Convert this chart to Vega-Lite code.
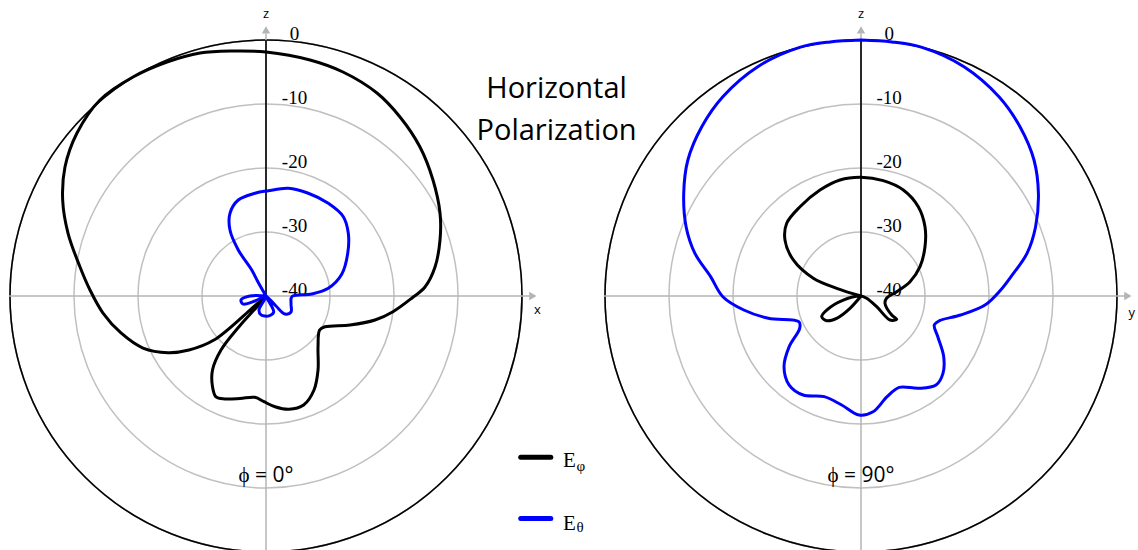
{
  "$schema": "https://vega.github.io/schema/vega-lite/v6.json",
  "padding": 0,
  "spacing": 0,
  "bounds": "flush",
  "config": {"view": {"stroke": null}, "axis": {"disable": true}},
  "datasets": {
    "rings": [{"level": -30}, {"level": -20}, {"level": -10}],
    "outer": [{"level": 0}],
    "ringLabels": [
      {"level": 0, "label": "0"}, {"level": -10, "label": "-10"}, {"level": -20, "label": "-20"},
      {"level": -30, "label": "-30"}, {"level": -40, "label": "-40"}
    ],
    "patterns": [
      {"plot": "ϕ = 0°", "series": "Eφ", "i": 0, "h": 0, "v": 0},
      {"plot": "ϕ = 0°", "series": "Eφ", "i": 1, "h": -2.5, "v": -2.19},
      {"plot": "ϕ = 0°", "series": "Eφ", "i": 2, "h": -8.13, "v": -6.88},
      {"plot": "ϕ = 0°", "series": "Eφ", "i": 3, "h": -12.03, "v": -8.44},
      {"plot": "ϕ = 0°", "series": "Eφ", "i": 4, "h": -15.31, "v": -8.86},
      {"plot": "ϕ = 0°", "series": "Eφ", "i": 5, "h": -19.22, "v": -8.13},
      {"plot": "ϕ = 0°", "series": "Eφ", "i": 6, "h": -22.66, "v": -5.78},
      {"plot": "ϕ = 0°", "series": "Eφ", "i": 7, "h": -25.47, "v": -2.66},
      {"plot": "ϕ = 0°", "series": "Eφ", "i": 8, "h": -27.5, "v": 0.94},
      {"plot": "ϕ = 0°", "series": "Eφ", "i": 9, "h": -29.06, "v": 4.53},
      {"plot": "ϕ = 0°", "series": "Eφ", "i": 10, "h": -30.94, "v": 9.84},
      {"plot": "ϕ = 0°", "series": "Eφ", "i": 11, "h": -31.77, "v": 15.0},
      {"plot": "ϕ = 0°", "series": "Eφ", "i": 12, "h": -31.41, "v": 20.16},
      {"plot": "ϕ = 0°", "series": "Eφ", "i": 13, "h": -29.53, "v": 25.47},
      {"plot": "ϕ = 0°", "series": "Eφ", "i": 14, "h": -25.94, "v": 30.63},
      {"plot": "ϕ = 0°", "series": "Eφ", "i": 15, "h": -20.78, "v": 34.22},
      {"plot": "ϕ = 0°", "series": "Eφ", "i": 16, "h": -15.47, "v": 36.56},
      {"plot": "ϕ = 0°", "series": "Eφ", "i": 17, "h": -10.31, "v": 37.97},
      {"plot": "ϕ = 0°", "series": "Eφ", "i": 18, "h": -5.16, "v": 38.28},
      {"plot": "ϕ = 0°", "series": "Eφ", "i": 19, "h": 0, "v": 38.13},
      {"plot": "ϕ = 0°", "series": "Eφ", "i": 20, "h": 6.88, "v": 36.88},
      {"plot": "ϕ = 0°", "series": "Eφ", "i": 21, "h": 12.03, "v": 35.0},
      {"plot": "ϕ = 0°", "series": "Eφ", "i": 22, "h": 17.34, "v": 31.72},
      {"plot": "ϕ = 0°", "series": "Eφ", "i": 23, "h": 20.94, "v": 27.97},
      {"plot": "ϕ = 0°", "series": "Eφ", "i": 24, "h": 24.06, "v": 23.28},
      {"plot": "ϕ = 0°", "series": "Eφ", "i": 25, "h": 26.09, "v": 18.13},
      {"plot": "ϕ = 0°", "series": "Eφ", "i": 26, "h": 27.19, "v": 12.97},
      {"plot": "ϕ = 0°", "series": "Eφ", "i": 27, "h": 27.19, "v": 8.75},
      {"plot": "ϕ = 0°", "series": "Eφ", "i": 28, "h": 26.41, "v": 4.53},
      {"plot": "ϕ = 0°", "series": "Eφ", "i": 29, "h": 24.84, "v": 1.41},
      {"plot": "ϕ = 0°", "series": "Eφ", "i": 30, "h": 22.81, "v": -0.31},
      {"plot": "ϕ = 0°", "series": "Eφ", "i": 31, "h": 19.84, "v": -2.45},
      {"plot": "ϕ = 0°", "series": "Eφ", "i": 32, "h": 17.03, "v": -3.75},
      {"plot": "ϕ = 0°", "series": "Eφ", "i": 33, "h": 13.13, "v": -4.53},
      {"plot": "ϕ = 0°", "series": "Eφ", "i": 34, "h": 9.22, "v": -4.8},
      {"plot": "ϕ = 0°", "series": "Eφ", "i": 35, "h": 8.38, "v": -5.31},
      {"plot": "ϕ = 0°", "series": "Eφ", "i": 36, "h": 8.13, "v": -7.92},
      {"plot": "ϕ = 0°", "series": "Eφ", "i": 37, "h": 8.13, "v": -11.56},
      {"plot": "ϕ = 0°", "series": "Eφ", "i": 38, "h": 7.5, "v": -14.69},
      {"plot": "ϕ = 0°", "series": "Eφ", "i": 39, "h": 5.88, "v": -17.03},
      {"plot": "ϕ = 0°", "series": "Eφ", "i": 40, "h": 3.59, "v": -17.7},
      {"plot": "ϕ = 0°", "series": "Eφ", "i": 41, "h": 1.41, "v": -17.3},
      {"plot": "ϕ = 0°", "series": "Eφ", "i": 42, "h": -0.31, "v": -16.52},
      {"plot": "ϕ = 0°", "series": "Eφ", "i": 43, "h": -1.72, "v": -15.83},
      {"plot": "ϕ = 0°", "series": "Eφ", "i": 44, "h": -4.06, "v": -16.02},
      {"plot": "ϕ = 0°", "series": "Eφ", "i": 45, "h": -6.41, "v": -16.09},
      {"plot": "ϕ = 0°", "series": "Eφ", "i": 46, "h": -7.81, "v": -15.78},
      {"plot": "ϕ = 0°", "series": "Eφ", "i": 47, "h": -8.36, "v": -14.17},
      {"plot": "ϕ = 0°", "series": "Eφ", "i": 48, "h": -8.36, "v": -11.56},
      {"plot": "ϕ = 0°", "series": "Eφ", "i": 49, "h": -7.03, "v": -8.44},
      {"plot": "ϕ = 0°", "series": "Eφ", "i": 50, "h": -4.22, "v": -4.8},
      {"plot": "ϕ = 0°", "series": "Eφ", "i": 51, "h": -1.41, "v": -1.67},
      {"plot": "ϕ = 0°", "series": "Eφ", "i": 52, "h": 0, "v": 0},

      {"plot": "ϕ = 0°", "series": "Eθ", "i": 0, "h": 0, "v": 0},
      {"plot": "ϕ = 0°", "series": "Eθ", "i": 1, "h": -1.25, "v": 2.19},
      {"plot": "ϕ = 0°", "series": "Eθ", "i": 2, "h": -2.23, "v": 4.06},
      {"plot": "ϕ = 0°", "series": "Eθ", "i": 3, "h": -4.33, "v": 7.19},
      {"plot": "ϕ = 0°", "series": "Eθ", "i": 4, "h": -5.63, "v": 10.31},
      {"plot": "ϕ = 0°", "series": "Eθ", "i": 5, "h": -5.63, "v": 12.92},
      {"plot": "ϕ = 0°", "series": "Eθ", "i": 6, "h": -4.33, "v": 15.0},
      {"plot": "ϕ = 0°", "series": "Eθ", "i": 7, "h": -1.72, "v": 16.05},
      {"plot": "ϕ = 0°", "series": "Eθ", "i": 8, "h": 0.36, "v": 16.45},
      {"plot": "ϕ = 0°", "series": "Eθ", "i": 9, "h": 3.48, "v": 16.83},
      {"plot": "ϕ = 0°", "series": "Eθ", "i": 10, "h": 6.61, "v": 16.05},
      {"plot": "ϕ = 0°", "series": "Eθ", "i": 11, "h": 9.73, "v": 14.48},
      {"plot": "ϕ = 0°", "series": "Eθ", "i": 12, "h": 12.08, "v": 12.39},
      {"plot": "ϕ = 0°", "series": "Eθ", "i": 13, "h": 12.86, "v": 9.8},
      {"plot": "ϕ = 0°", "series": "Eθ", "i": 14, "h": 12.77, "v": 6.67},
      {"plot": "ϕ = 0°", "series": "Eθ", "i": 15, "h": 11.83, "v": 3.39},
      {"plot": "ϕ = 0°", "series": "Eθ", "i": 16, "h": 9.73, "v": 1.2},
      {"plot": "ϕ = 0°", "series": "Eθ", "i": 17, "h": 7.14, "v": 0.31},
      {"plot": "ϕ = 0°", "series": "Eθ", "i": 18, "h": 4.06, "v": -0.08},
      {"plot": "ϕ = 0°", "series": "Eθ", "i": 19, "h": 3.91, "v": -1.25},
      {"plot": "ϕ = 0°", "series": "Eθ", "i": 20, "h": 3.91, "v": -2.5},
      {"plot": "ϕ = 0°", "series": "Eθ", "i": 21, "h": 2.97, "v": -2.81},
      {"plot": "ϕ = 0°", "series": "Eθ", "i": 22, "h": 1.56, "v": -1.56},
      {"plot": "ϕ = 0°", "series": "Eθ", "i": 23, "h": 0, "v": 0},
      {"plot": "ϕ = 0°", "series": "Eθ", "i": 24, "h": 1.2, "v": -2.5},
      {"plot": "ϕ = 0°", "series": "Eθ", "i": 25, "h": 0.47, "v": -3.1},
      {"plot": "ϕ = 0°", "series": "Eθ", "i": 26, "h": -0.78, "v": -2.95},
      {"plot": "ϕ = 0°", "series": "Eθ", "i": 27, "h": -1.1, "v": -2.2},
      {"plot": "ϕ = 0°", "series": "Eθ", "i": 28, "h": 0, "v": 0},
      {"plot": "ϕ = 0°", "series": "Eθ", "i": 29, "h": -1.72, "v": -0.78},
      {"plot": "ϕ = 0°", "series": "Eθ", "i": 30, "h": -3.59, "v": -1.25},
      {"plot": "ϕ = 0°", "series": "Eθ", "i": 31, "h": -3.91, "v": -0.63},
      {"plot": "ϕ = 0°", "series": "Eθ", "i": 32, "h": -2.5, "v": 0},
      {"plot": "ϕ = 0°", "series": "Eθ", "i": 33, "h": 0, "v": 0},

      {"plot": "ϕ = 90°", "series": "Eθ", "i": 0, "h": 0, "v": 40},
      {"plot": "ϕ = 90°", "series": "Eθ", "i": 1, "h": 4.84, "v": 39.7},
      {"plot": "ϕ = 90°", "series": "Eθ", "i": 2, "h": 9.53, "v": 38.85},
      {"plot": "ϕ = 90°", "series": "Eθ", "i": 3, "h": 16.09, "v": 35.83},
      {"plot": "ϕ = 90°", "series": "Eθ", "i": 4, "h": 21.56, "v": 31.14},
      {"plot": "ϕ = 90°", "series": "Eθ", "i": 5, "h": 24.84, "v": 26.45},
      {"plot": "ϕ = 90°", "series": "Eθ", "i": 6, "h": 27.03, "v": 21.25},
      {"plot": "ϕ = 90°", "series": "Eθ", "i": 7, "h": 27.72, "v": 16.05},
      {"plot": "ϕ = 90°", "series": "Eθ", "i": 8, "h": 27.28, "v": 10.83},
      {"plot": "ϕ = 90°", "series": "Eθ", "i": 9, "h": 25.94, "v": 6.67},
      {"plot": "ϕ = 90°", "series": "Eθ", "i": 10, "h": 23.44, "v": 3.02},
      {"plot": "ϕ = 90°", "series": "Eθ", "i": 11, "h": 21.83, "v": 0.94},
      {"plot": "ϕ = 90°", "series": "Eθ", "i": 12, "h": 19.38, "v": -1.41},
      {"plot": "ϕ = 90°", "series": "Eθ", "i": 13, "h": 15.55, "v": -2.97},
      {"plot": "ϕ = 90°", "series": "Eθ", "i": 14, "h": 12.27, "v": -3.86},
      {"plot": "ϕ = 90°", "series": "Eθ", "i": 15, "h": 11.45, "v": -4.53},
      {"plot": "ϕ = 90°", "series": "Eθ", "i": 16, "h": 12.0, "v": -6.36},
      {"plot": "ϕ = 90°", "series": "Eθ", "i": 17, "h": 12.92, "v": -9.48},
      {"plot": "ϕ = 90°", "series": "Eθ", "i": 18, "h": 12.81, "v": -12.08},
      {"plot": "ϕ = 90°", "series": "Eθ", "i": 19, "h": 11.72, "v": -13.91},
      {"plot": "ϕ = 90°", "series": "Eθ", "i": 20, "h": 9.0, "v": -14.42},
      {"plot": "ϕ = 90°", "series": "Eθ", "i": 21, "h": 5.98, "v": -14.27},
      {"plot": "ϕ = 90°", "series": "Eθ", "i": 22, "h": 4.08, "v": -15.73},
      {"plot": "ϕ = 90°", "series": "Eθ", "i": 23, "h": 1.89, "v": -18.08},
      {"plot": "ϕ = 90°", "series": "Eθ", "i": 24, "h": -0.3, "v": -18.59},
      {"plot": "ϕ = 90°", "series": "Eθ", "i": 25, "h": -3.02, "v": -17.03},
      {"plot": "ϕ = 90°", "series": "Eθ", "i": 26, "h": -5.75, "v": -15.73},
      {"plot": "ϕ = 90°", "series": "Eθ", "i": 27, "h": -9.03, "v": -15.47},
      {"plot": "ϕ = 90°", "series": "Eθ", "i": 28, "h": -11.22, "v": -13.91},
      {"plot": "ϕ = 90°", "series": "Eθ", "i": 29, "h": -12.03, "v": -11.05},
      {"plot": "ϕ = 90°", "series": "Eθ", "i": 30, "h": -11.22, "v": -7.92},
      {"plot": "ϕ = 90°", "series": "Eθ", "i": 31, "h": -9.58, "v": -5.05},
      {"plot": "ϕ = 90°", "series": "Eθ", "i": 32, "h": -9.69, "v": -4.02},
      {"plot": "ϕ = 90°", "series": "Eθ", "i": 33, "h": -14.48, "v": -3.48},
      {"plot": "ϕ = 90°", "series": "Eθ", "i": 34, "h": -18.31, "v": -2.19},
      {"plot": "ϕ = 90°", "series": "Eθ", "i": 35, "h": -21.59, "v": -0.11},
      {"plot": "ϕ = 90°", "series": "Eθ", "i": 36, "h": -23.5, "v": 3.02},
      {"plot": "ϕ = 90°", "series": "Eθ", "i": 37, "h": -25.95, "v": 6.67},
      {"plot": "ϕ = 90°", "series": "Eθ", "i": 38, "h": -27.33, "v": 10.83},
      {"plot": "ϕ = 90°", "series": "Eθ", "i": 39, "h": -27.7, "v": 16.05},
      {"plot": "ϕ = 90°", "series": "Eθ", "i": 40, "h": -27.05, "v": 21.25},
      {"plot": "ϕ = 90°", "series": "Eθ", "i": 41, "h": -24.88, "v": 26.45},
      {"plot": "ϕ = 90°", "series": "Eθ", "i": 42, "h": -21.59, "v": 31.14},
      {"plot": "ϕ = 90°", "series": "Eθ", "i": 43, "h": -16.13, "v": 35.83},
      {"plot": "ϕ = 90°", "series": "Eθ", "i": 44, "h": -9.58, "v": 38.85},
      {"plot": "ϕ = 90°", "series": "Eθ", "i": 45, "h": -4.84, "v": 39.7},
      {"plot": "ϕ = 90°", "series": "Eθ", "i": 46, "h": 0, "v": 40},

      {"plot": "ϕ = 90°", "series": "Eφ", "i": 0, "h": 0, "v": 0},
      {"plot": "ϕ = 90°", "series": "Eφ", "i": 1, "h": -3.8, "v": 1.2},
      {"plot": "ϕ = 90°", "series": "Eφ", "i": 2, "h": -7.45, "v": 2.77},
      {"plot": "ϕ = 90°", "series": "Eφ", "i": 3, "h": -10.58, "v": 5.63},
      {"plot": "ϕ = 90°", "series": "Eφ", "i": 4, "h": -11.88, "v": 8.75},
      {"plot": "ϕ = 90°", "series": "Eφ", "i": 5, "h": -11.61, "v": 11.36},
      {"plot": "ϕ = 90°", "series": "Eφ", "i": 6, "h": -9.53, "v": 13.95},
      {"plot": "ϕ = 90°", "series": "Eφ", "i": 7, "h": -6.41, "v": 16.56},
      {"plot": "ϕ = 90°", "series": "Eφ", "i": 8, "h": -3.28, "v": 18.13},
      {"plot": "ϕ = 90°", "series": "Eφ", "i": 9, "h": 0, "v": 18.55},
      {"plot": "ϕ = 90°", "series": "Eφ", "i": 10, "h": 3.48, "v": 18.02},
      {"plot": "ϕ = 90°", "series": "Eφ", "i": 11, "h": 6.61, "v": 16.56},
      {"plot": "ϕ = 90°", "series": "Eφ", "i": 12, "h": 8.95, "v": 13.95},
      {"plot": "ϕ = 90°", "series": "Eφ", "i": 13, "h": 10.0, "v": 10.83},
      {"plot": "ϕ = 90°", "series": "Eφ", "i": 14, "h": 10.0, "v": 7.7},
      {"plot": "ϕ = 90°", "series": "Eφ", "i": 15, "h": 9.22, "v": 4.58},
      {"plot": "ϕ = 90°", "series": "Eφ", "i": 16, "h": 7.66, "v": 2.23},
      {"plot": "ϕ = 90°", "series": "Eφ", "i": 17, "h": 5.58, "v": 0.67},
      {"plot": "ϕ = 90°", "series": "Eφ", "i": 18, "h": 4.02, "v": -0.31},
      {"plot": "ϕ = 90°", "series": "Eφ", "i": 19, "h": 3.75, "v": -1.14},
      {"plot": "ϕ = 90°", "series": "Eφ", "i": 20, "h": 4.8, "v": -2.97},
      {"plot": "ϕ = 90°", "series": "Eφ", "i": 21, "h": 5.58, "v": -3.64},
      {"plot": "ϕ = 90°", "series": "Eφ", "i": 22, "h": 4.53, "v": -3.75},
      {"plot": "ϕ = 90°", "series": "Eφ", "i": 23, "h": 2.45, "v": -1.67},
      {"plot": "ϕ = 90°", "series": "Eφ", "i": 24, "h": 0.89, "v": -0.36},
      {"plot": "ϕ = 90°", "series": "Eφ", "i": 25, "h": 0, "v": 0},
      {"plot": "ϕ = 90°", "series": "Eφ", "i": 26, "h": -2.77, "v": -0.63},
      {"plot": "ϕ = 90°", "series": "Eφ", "i": 27, "h": -5.36, "v": -2.19},
      {"plot": "ϕ = 90°", "series": "Eφ", "i": 28, "h": -6.14, "v": -3.23},
      {"plot": "ϕ = 90°", "series": "Eφ", "i": 29, "h": -5.36, "v": -3.86},
      {"plot": "ϕ = 90°", "series": "Eφ", "i": 30, "h": -3.8, "v": -3.48},
      {"plot": "ϕ = 90°", "series": "Eφ", "i": 31, "h": -1.72, "v": -1.92},
      {"plot": "ϕ = 90°", "series": "Eφ", "i": 32, "h": 0, "v": 0}
    ]
  },
  "hconcat": [
    {
      "width": 563,
      "height": 550,
      "data": {"values": [{}]},
      "layer": [
        {
          "data": {"name": "rings"},
          "mark": {"type": "arc", "filled": false, "stroke": "#c0c0c0", "strokeWidth": 1.5, "theta": 0, "theta2": 6.2832},
          "encoding": {
            "x": {"datum": 0, "type": "quantitative"},
            "y": {"datum": 0, "type": "quantitative"},
            "radius": {"field": "level", "type": "quantitative", "stack": null, "scale": {"type": "linear", "domain": [-40, 0], "range": [0, 256], "zero": false}}
          }
        },
        {
          "data": {"name": "outer"},
          "mark": {"type": "arc", "filled": false, "stroke": "#000000", "strokeWidth": 1.6, "theta": 0, "theta2": 6.2832},
          "encoding": {
            "x": {"datum": 0, "type": "quantitative"},
            "y": {"datum": 0, "type": "quantitative"},
            "radius": {"field": "level", "type": "quantitative", "stack": null}
          }
        },
        {
          "mark": {"type": "rule", "stroke": "#b4b4b4", "strokeWidth": 1.5},
          "encoding": {"x": {"datum": -40.2}, "x2": {"datum": 41.3}, "y": {"datum": 0}}
        },
        {
          "mark": {"type": "rule", "stroke": "#b4b4b4", "strokeWidth": 1.5},
          "encoding": {"x": {"datum": 0}, "y": {"datum": -41}, "y2": {"datum": 41}}
        },
        {
          "mark": {"type": "point", "shape": "triangle-right", "filled": true, "color": "#b4b4b4", "opacity": 1, "size": 70},
          "encoding": {"x": {"datum": 41.7}, "y": {"datum": 0}}
        },
        {
          "mark": {"type": "point", "shape": "triangle-up", "filled": true, "color": "#b4b4b4", "opacity": 1, "size": 70},
          "encoding": {"x": {"datum": 0}, "y": {"datum": 41.6}}
        },
        {
          "mark": {"type": "rule", "stroke": "#000000", "strokeWidth": 1.6},
          "encoding": {"x": {"datum": 0}, "y": {"datum": 0}, "y2": {"datum": 40}}
        },
        {
          "data": {"name": "ringLabels"},
          "transform": [{"calculate": "datum.level + 40", "as": "r"}],
          "mark": {"type": "text", "font": "Liberation Serif", "fontSize": 19, "align": "center", "baseline": "alphabetic", "color": "#000000"},
          "encoding": {"x": {"datum": 4.45}, "y": {"field": "r", "type": "quantitative"}, "text": {"field": "label"}}
        },
        {
          "mark": {"type": "text", "text": "z", "font": "Open Sans", "fontSize": 13, "align": "center", "baseline": "middle"},
          "encoding": {"x": {"datum": 0}, "y": {"datum": 44.1}}
        },
        {
          "mark": {"type": "text", "text": "x", "font": "Open Sans", "fontSize": 13, "align": "center", "baseline": "middle"},
          "encoding": {"x": {"datum": 42.4}, "y": {"datum": -2.2}}
        },
        {
          "data": {"name": "patterns"},
          "transform": [{"filter": "datum.plot === 'ϕ = 0°'"}],
          "mark": {"type": "line", "interpolate": "catmull-rom", "strokeWidth": 3, "strokeJoin": "round", "strokeCap": "round"},
          "encoding": {
            "x": {"field": "h", "type": "quantitative", "scale": {"domain": [-41.5625, 46.40625], "nice": false, "zero": false}, "axis": null},
            "y": {"field": "v", "type": "quantitative", "scale": {"domain": [-39.6875, 46.25], "nice": false, "zero": false}, "axis": null},
            "color": {"field": "series", "type": "nominal", "scale": {"domain": ["Eφ", "Eθ"], "range": ["#000000", "#0000ff"]}, "legend": null},
            "order": {"field": "i", "type": "quantitative"}
          }
        },
        {
          "mark": {"type": "text", "text": "ϕ = 0°", "font": "Open Sans", "fontSize": 21, "align": "center", "baseline": "alphabetic", "color": "#000000"},
          "encoding": {"x": {"datum": 0}, "y": {"datum": -29.0}}
        },
        {
          "mark": {"type": "text", "text": ["Horizontal", "Polarization"], "font": "Open Sans", "fontSize": 29, "lineHeight": 42, "align": "center", "baseline": "alphabetic", "color": "#000000"},
          "encoding": {"x": {"datum": 45.4}, "y": {"datum": 30.9}}
        },
        {
          "mark": {"type": "rule", "stroke": "#000000", "strokeWidth": 5, "strokeCap": "round"},
          "encoding": {"x": {"datum": 39.8}, "x2": {"datum": 44.5}, "y": {"datum": -25.2}}
        },
        {
          "mark": {"type": "rule", "stroke": "#0000ff", "strokeWidth": 5, "strokeCap": "round"},
          "encoding": {"x": {"datum": 39.8}, "x2": {"datum": 44.5}, "y": {"datum": -34.75}}
        },
        {
          "mark": {"type": "text", "text": "E", "font": "Liberation Serif", "fontSize": 21, "align": "left", "baseline": "alphabetic"},
          "encoding": {"x": {"datum": 46.4}, "y": {"datum": -26.77}}
        },
        {
          "mark": {"type": "text", "text": "φ", "font": "Liberation Serif", "fontSize": 15, "align": "left", "baseline": "alphabetic"},
          "encoding": {"x": {"datum": 48.5}, "y": {"datum": -27.4}}
        },
        {
          "mark": {"type": "text", "text": "E", "font": "Liberation Serif", "fontSize": 21, "align": "left", "baseline": "alphabetic"},
          "encoding": {"x": {"datum": 46.4}, "y": {"datum": -36.56}}
        },
        {
          "mark": {"type": "text", "text": "θ", "font": "Liberation Serif", "fontSize": 15, "align": "left", "baseline": "alphabetic"},
          "encoding": {"x": {"datum": 48.5}, "y": {"datum": -36.85}}
        }
      ]
    },
    {
      "width": 575,
      "height": 550,
      "data": {"values": [{}]},
      "layer": [
        {
          "data": {"name": "rings"},
          "mark": {"type": "arc", "filled": false, "stroke": "#c0c0c0", "strokeWidth": 1.5, "theta": 0, "theta2": 6.2832},
          "encoding": {
            "x": {"datum": 0, "type": "quantitative"},
            "y": {"datum": 0, "type": "quantitative"},
            "radius": {"field": "level", "type": "quantitative", "stack": null, "scale": {"type": "linear", "domain": [-40, 0], "range": [0, 256], "zero": false}}
          }
        },
        {
          "data": {"name": "outer"},
          "mark": {"type": "arc", "filled": false, "stroke": "#000000", "strokeWidth": 1.6, "theta": 0, "theta2": 6.2832},
          "encoding": {
            "x": {"datum": 0, "type": "quantitative"},
            "y": {"datum": 0, "type": "quantitative"},
            "radius": {"field": "level", "type": "quantitative", "stack": null}
          }
        },
        {
          "mark": {"type": "rule", "stroke": "#b4b4b4", "strokeWidth": 1.5},
          "encoding": {"x": {"datum": -40.2}, "x2": {"datum": 41.3}, "y": {"datum": 0}}
        },
        {
          "mark": {"type": "rule", "stroke": "#b4b4b4", "strokeWidth": 1.5},
          "encoding": {"x": {"datum": 0}, "y": {"datum": -41}, "y2": {"datum": 41}}
        },
        {
          "mark": {"type": "point", "shape": "triangle-right", "filled": true, "color": "#b4b4b4", "opacity": 1, "size": 70},
          "encoding": {"x": {"datum": 41.7}, "y": {"datum": 0}}
        },
        {
          "mark": {"type": "point", "shape": "triangle-up", "filled": true, "color": "#b4b4b4", "opacity": 1, "size": 70},
          "encoding": {"x": {"datum": 0}, "y": {"datum": 41.6}}
        },
        {
          "mark": {"type": "rule", "stroke": "#000000", "strokeWidth": 1.6},
          "encoding": {"x": {"datum": 0}, "y": {"datum": 0}, "y2": {"datum": 40}}
        },
        {
          "data": {"name": "ringLabels"},
          "transform": [{"calculate": "datum.level + 40", "as": "r"}],
          "mark": {"type": "text", "font": "Liberation Serif", "fontSize": 19, "align": "center", "baseline": "alphabetic", "color": "#000000"},
          "encoding": {"x": {"datum": 4.4}, "y": {"field": "r", "type": "quantitative"}, "text": {"field": "label"}}
        },
        {
          "mark": {"type": "text", "text": "z", "font": "Open Sans", "fontSize": 13, "align": "center", "baseline": "middle"},
          "encoding": {"x": {"datum": 0}, "y": {"datum": 44.1}}
        },
        {
          "mark": {"type": "text", "text": "y", "font": "Open Sans", "fontSize": 13, "align": "center", "baseline": "middle"},
          "encoding": {"x": {"datum": 42.3}, "y": {"datum": -2.6}}
        },
        {
          "data": {"name": "patterns"},
          "transform": [{"filter": "datum.plot === 'ϕ = 90°'"}],
          "mark": {"type": "line", "interpolate": "catmull-rom", "strokeWidth": 3, "strokeJoin": "round", "strokeCap": "round"},
          "encoding": {
            "x": {"field": "h", "type": "quantitative", "scale": {"domain": [-46.5625, 43.28125], "nice": false, "zero": false}, "axis": null},
            "y": {"field": "v", "type": "quantitative", "scale": {"domain": [-39.6875, 46.25], "nice": false, "zero": false}, "axis": null},
            "color": {"field": "series", "type": "nominal", "scale": {"domain": ["Eφ", "Eθ"], "range": ["#000000", "#0000ff"]}, "legend": null},
            "order": {"field": "i", "type": "quantitative"}
          }
        },
        {
          "mark": {"type": "text", "text": "ϕ = 90°", "font": "Open Sans", "fontSize": 21, "align": "center", "baseline": "alphabetic", "color": "#000000"},
          "encoding": {"x": {"datum": 0}, "y": {"datum": -29.0}}
        }
      ]
    }
  ]
}
